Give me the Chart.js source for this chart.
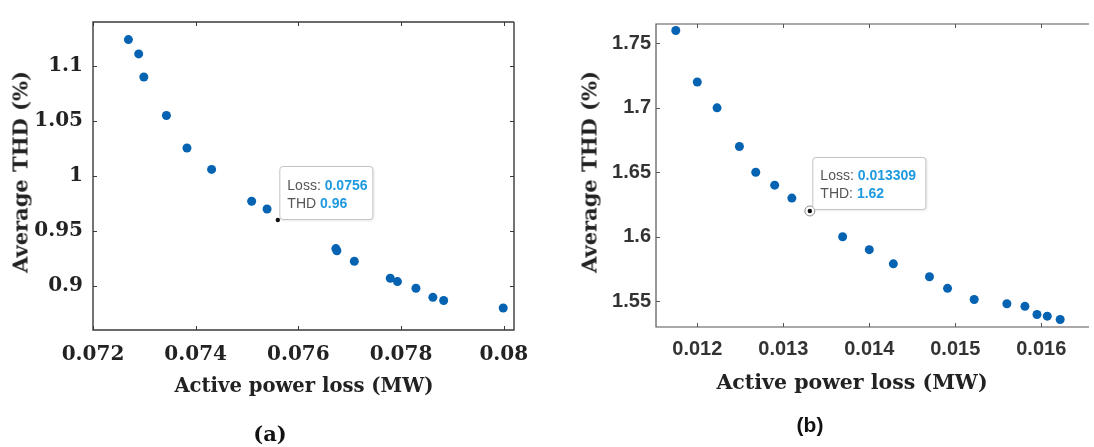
<!DOCTYPE html>
<html>
<head>
<meta charset="utf-8">
<script src="https://cdn.jsdelivr.net/npm/chart.js@4/dist/chart.umd.min.js"></script>
<style>
  html,body{margin:0;padding:0;background:#fff;}
  #wrap{position:relative;width:1094px;height:447px;overflow:hidden;background:#fff;}
  canvas{position:absolute;top:0;}
  .t{position:absolute;white-space:nowrap;font-family:"DejaVu Serif",serif;font-weight:bold;color:#222;}
  .ty{transform:translate(-50%,-50%) rotate(-90deg);}
  .tx{transform:translate(-50%,-50%);}
</style>
</head>
<body>
<div id="wrap">
  <canvas id="ca" width="545" height="447" style="left:0;width:545px;height:447px"></canvas>
  <canvas id="cb" width="549" height="447" style="left:545px;width:549px;height:447px"></canvas>
  <div class="t ty" style="left:20px;top:172px;font-size:21px;">Average THD (%)</div>
  <div class="t tx" style="left:304px;top:385px;font-size:19.6px;">Active power loss (MW)</div>
  <div class="t ty" style="left:589px;top:172px;font-size:21px;">Average THD (%)</div>
  <div class="t tx" style="left:852px;top:382px;font-size:20.5px;">Active power loss (MW)</div>
  <div class="t tx" style="left:270px;top:433px;font-size:21px;color:#111;">(a)</div>
  <div class="t tx" style="left:810px;top:425px;font-size:21px;color:#111;font-family:'Liberation Sans',Arial,sans-serif;">(b)</div>
</div>
<script>
// ---------- data: panel (a) ----------
const lossA = [0.07269, 0.07289, 0.07299, 0.07343, 0.07383, 0.07431, 0.07509, 0.07539,
               0.07673, 0.07675, 0.07709, 0.07779, 0.07793, 0.07829, 0.07862, 0.07883, 0.07999];
const thdA  = [1.124, 1.111, 1.090, 1.055, 1.0255, 1.006, 0.977, 0.970,
               0.934, 0.932, 0.9225, 0.907, 0.904, 0.898, 0.8897, 0.8868, 0.880];
const tipLossA = [0.0756];
const tipThdA  = [0.96];
const xTicksA = [0.072, 0.074, 0.076, 0.078, 0.080];
const xLabelsA = ["0.072", "0.074", "0.076", "0.078", "0.08"];
const yTicksA = [0.90, 0.95, 1.00, 1.05, 1.10];
const yLabelsA = ["0.9", "0.95", "1", "1.05", "1.1"];
const xRangeA = [0.072, 0.0802];
const yRangeA = [0.86, 1.14];
const tipTextA = ["Loss: ", "0.0756", "THD ", "0.96"];

// ---------- data: panel (b) ----------
const lossB = [0.01175, 0.01200, 0.01223, 0.01249, 0.01268, 0.01290, 0.01310,
               0.01369, 0.01400, 0.01428, 0.01470, 0.01491, 0.01522, 0.01560,
               0.01581, 0.01595, 0.01607, 0.01622];
const thdB  = [1.760, 1.720, 1.700, 1.670, 1.650, 1.640, 1.630,
               1.600, 1.590, 1.579, 1.569, 1.560, 1.5513, 1.548,
               1.546, 1.5397, 1.5384, 1.5358];
const tipLossB = [0.013309];
const tipThdB  = [1.62];
const xTicksB = [0.012, 0.013, 0.014, 0.015, 0.016];
const xLabelsB = ["0.012", "0.013", "0.014", "0.015", "0.016"];
const yTicksB = [1.55, 1.60, 1.65, 1.70, 1.75];
const yLabelsB = ["1.55", "1.6", "1.65", "1.7", "1.75"];
const xRangeB = [0.01152, 0.016555];
const yRangeB = [1.53, 1.765];
const tipTextB = ["Loss: ", "0.013309", "THD: ", "1.62"];

const DOT = '#0563b2';

function pts(xs, ys){ return xs.map((x,i)=>({x:x, y:ys[i]})); }

function boxPlugin(cfg){
  return {
    id:'box'+cfg.id,
    afterDatasetsDraw(chart){
      const ctx = chart.ctx, a = chart.chartArea;
      const xs = chart.scales.x, ys = chart.scales.y;
      ctx.save();
      ctx.strokeStyle = cfg.border; ctx.lineWidth = cfg.lw;
      ctx.beginPath();
      ctx.moveTo(a.right, a.top); ctx.lineTo(a.left, a.top); ctx.lineTo(a.left, a.bottom); ctx.lineTo(a.right, a.bottom);
      if (cfg.rightBorder) ctx.lineTo(a.right, a.top);
      ctx.stroke();
      // inward ticks
      ctx.lineWidth = 1;
      const L = 4;
      ctx.beginPath();
      xs.ticks.forEach((t,i)=>{
        const px = Math.round(xs.getPixelForTick(i)) + 0.5;
        ctx.moveTo(px, a.bottom); ctx.lineTo(px, a.bottom - L);
        ctx.moveTo(px, a.top); ctx.lineTo(px, a.top + L);
      });
      ys.ticks.forEach((t,i)=>{
        const py = Math.round(ys.getPixelForTick(i)) + 0.5;
        ctx.moveTo(a.left, py); ctx.lineTo(a.left + L, py);
        if (cfg.rightBorder){ ctx.moveTo(a.right, py); ctx.lineTo(a.right - L, py); }
      });
      ctx.stroke();
      ctx.restore();
    },
    afterDraw(chart){
      const ctx = chart.ctx;
      const el = chart.getDatasetMeta(1).data[0];
      const p = {x: el.x, y: el.y};
      ctx.save();
      if (cfg.ring){
        ctx.beginPath(); ctx.arc(p.x, p.y, 5, 0, Math.PI*2);
        ctx.fillStyle = '#fff'; ctx.fill();
        ctx.strokeStyle = '#8a8a8a'; ctx.lineWidth = 1; ctx.stroke();
      }
      ctx.beginPath(); ctx.arc(p.x, p.y, 2.2, 0, Math.PI*2);
      ctx.fillStyle = '#111'; ctx.fill();
      // datatip box
      const bx = p.x + cfg.dx, bw = cfg.w, bh = cfg.h, by = p.y - cfg.dy - bh;
      ctx.shadowColor = 'rgba(0,0,0,0.12)'; ctx.shadowBlur = 3; ctx.shadowOffsetX = 1; ctx.shadowOffsetY = 1;
      ctx.beginPath();
      ctx.roundRect(bx + 0.5, by + 0.5, bw, bh, 3);
      ctx.fillStyle = '#fff'; ctx.fill();
      ctx.shadowColor = 'transparent';
      ctx.strokeStyle = '#c4c4c4'; ctx.lineWidth = 1; ctx.stroke();
      ctx.textBaseline = 'alphabetic'; ctx.textAlign = 'left';
      const tx = bx + 8;
      const lines = [[cfg.text[0], cfg.text[1]], [cfg.text[2], cfg.text[3]]];
      lines.forEach((ln, i)=>{
        const yy = by + cfg.base + i*18;
        ctx.font = '14px "Liberation Sans", Arial, sans-serif';
        ctx.fillStyle = '#555';
        ctx.fillText(ln[0], tx, yy);
        const w = ctx.measureText(ln[0]).width;
        ctx.font = 'bold 14px "Liberation Sans", Arial, sans-serif';
        ctx.fillStyle = '#1f9ae0';
        ctx.fillText(ln[1], tx + w, yy);
      });
      ctx.restore();
    }
  };
}

function makeChart(id, d){
  return new Chart(document.getElementById(id), {
    type:'scatter',
    data:{ datasets:[
      { data: pts(d.lx, d.ly), backgroundColor: DOT, borderColor: DOT, pointRadius: 4.5, pointBorderWidth: 0 },
      { data: pts(d.tx, d.ty), backgroundColor: 'rgba(0,0,0,0)', borderColor: 'rgba(0,0,0,0)', pointRadius: 2 }
    ]},
    options:{
      responsive:false, animation:false, events:[],
      layout:{ padding: d.pad },
      plugins:{ legend:{display:false}, tooltip:{enabled:false} },
      scales:{
        x:{ type:'linear', min:d.xr[0], max:d.xr[1],
            grid:{display:false, drawTicks:false, tickLength:0}, border:{display:false},
            afterBuildTicks: s => { s.ticks = d.xt.map(v=>({value:v})); },
            afterFit: s => { s.height = d.xh; },
            ticks:{ includeBounds:false, padding:d.xpad, color:d.tc, font:d.font,
                    autoSkip:false, maxRotation:0, callback:(v,i)=>d.xl[i] } },
        y:{ type:'linear', min:d.yr[0], max:d.yr[1],
            grid:{display:false, drawTicks:false, tickLength:0}, border:{display:false},
            afterBuildTicks: s => { s.ticks = d.yt.map(v=>({value:v})); },
            afterFit: s => { s.width = d.yw; },
            ticks:{ includeBounds:false, padding:d.ypad, color:d.tc, font:d.font,
                    autoSkip:false, callback:(v,i)=>d.yl[i] } }
      }
    },
    plugins:[boxPlugin(d.box)]
  });
}

makeChart('ca', {
  lx:lossA, ly:thdA, tx:tipLossA, ty:tipThdA,
  xr:xRangeA, yr:yRangeA, xt:xTicksA, xl:xLabelsA, yt:yTicksA, yl:yLabelsA,
  pad:{left:0, top:13, right:31, bottom:0}, xh:117, yw:93, xpad:13, ypad:10,
  tc:'#222', font:{family:'"DejaVu Serif", serif', weight:'bold', size:20},
  box:{id:'a', border:'#3a3a3a', lw:1.4, rightBorder:true, ring:false,
       dx:1.5, dy:1, w:93, h:53, base:24, text:tipTextA}
});

makeChart('cb', {
  lx:lossB, ly:thdB, tx:tipLossB, ty:tipThdB,
  xr:xRangeB, yr:yRangeB, xt:xTicksB, xl:xLabelsB, yt:yTicksB, yl:yLabelsB,
  pad:{left:0, top:24, right:0, bottom:0}, xh:120, yw:111, xpad:10, ypad:5,
  tc:'#333', font:{family:'"Liberation Sans", Arial, sans-serif', weight:'bold', size:20},
  box:{id:'b', border:'#555', lw:1.2, rightBorder:false, ring:true,
       dx:2.5, dy:2, w:113, h:52, base:23, text:tipTextB}
});
</script>
</body>
</html>
